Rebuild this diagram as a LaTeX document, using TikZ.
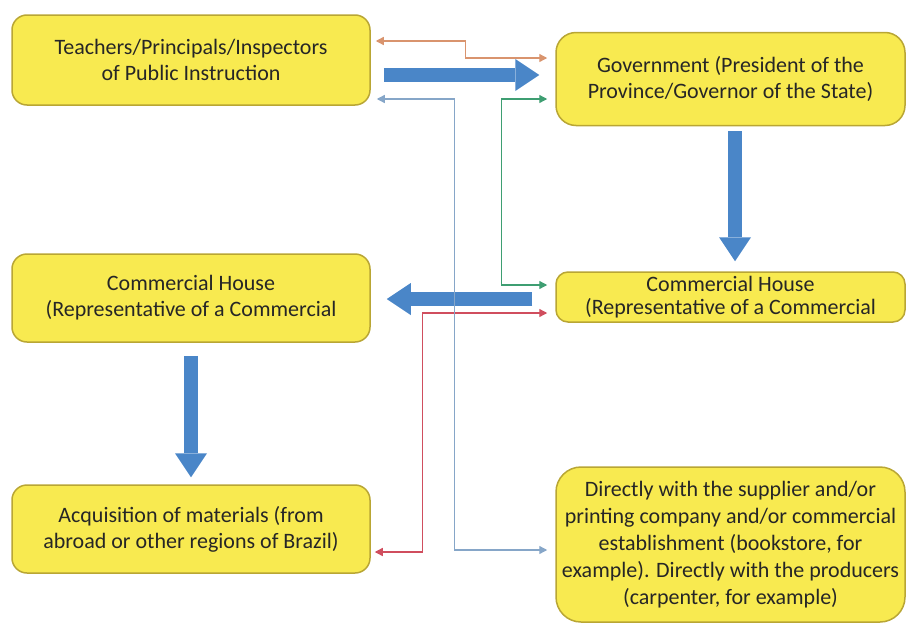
\documentclass[tikz,border=0pt]{standalone}
\usepackage{fontspec}
\setmainfont{Carlito}
\usetikzlibrary{arrows.meta}
\definecolor{boxyellow}{HTML}{F8EA50}
\definecolor{boxedge}{HTML}{B9A634}
\definecolor{arrowblue}{HTML}{4A86C8}
\definecolor{lineorange}{HTML}{D9946E}
\definecolor{lineblue}{HTML}{86A6C8}
\definecolor{linegreen}{HTML}{3E9E72}
\definecolor{linered}{HTML}{D04E5E}
\begin{document}
\begin{tikzpicture}[x=1pt,y=-1pt,
    box/.style={draw=boxedge, line width=1.5pt, fill=boxyellow, rounded corners=15pt,
      align=center, text=black!85, inner sep=0pt, font=\fontsize{22}{26}\selectfont},
    bigarrow/.style={line width=14pt, arrowblue,
      -{Triangle[length=24pt,width=32pt,line width=0pt]}},
    link/.style={line width=1.3pt,
      {Triangle[length=8pt,width=8pt]}-{Triangle[length=8pt,width=8pt]}}]
  \useasboundingbox (0,0) rectangle (908,632);
  \node[box, minimum width=358pt, minimum height=90pt] (teach) at (191,60)
    {Teachers/Principals/Inspectors\\of Public Instruction};
  \node[box, minimum width=349pt, minimum height=93pt, rounded corners=20pt] (gov) at (730.5,79)
    {Government (President of the\\Province/Governor of the State)};
  \node[box, minimum width=349pt, minimum height=50pt, rounded corners=12pt,
    font=\fontsize{22}{23}\selectfont] (commR) at (730.5,297)
    {Commercial House\\(Representative of a Commercial};
  \node[box, minimum width=358pt, minimum height=88pt] (commL) at (191,298)
    {Commercial House\\(Representative of a Commercial};
  \node[box, minimum width=358pt, minimum height=88pt] (acq) at (191,529)
    {Acquisition of materials (from\\abroad or other regions of Brazil)};
  \node[box, minimum width=349pt, minimum height=155pt, rounded corners=25pt,
    font=\fontsize{22}{27}\selectfont] (direct) at (730.5,544.5)
    {Directly with the supplier and/or\\printing company and/or commercial\\
     establishment (bookstore, for\\example). Directly with the producers\\
     (carpenter, for example)};
  \begin{scope}
    \draw[bigarrow] ([xshift=13pt,yshift=-15pt]teach.east) -- ([xshift=-16pt,yshift=4pt]gov.west);
    \draw[bigarrow] ([xshift=4.5pt,yshift=-5pt]gov.south) -- ([xshift=4.5pt,yshift=10pt]commR.north);
    \draw[bigarrow] ([xshift=-23pt,yshift=-2pt]commR.west) -- ([xshift=16pt,yshift=-1pt]commL.east);
    \draw[bigarrow] ([yshift=-13pt]commL.south) -- ([yshift=7pt]acq.north);
  \end{scope}
  \begin{scope}
    \draw[link, lineorange] ([xshift=5pt,yshift=19pt]teach.east) -- ++(90,0)
      |- ([xshift=-8pt,yshift=21pt]gov.west);
    \draw[link, linegreen] ([xshift=-8pt,yshift=-20pt]gov.west) -- ++(-46,0)
      |- ([xshift=-8pt,yshift=12pt]commR.west);
    \draw[link, linered] ([xshift=-8pt,yshift=-16pt]commR.west) -- ++(-125,0)
      |- ([xshift=4pt,yshift=-23pt]acq.east);
    \draw[link, lineblue] ([xshift=6pt,yshift=-39pt]teach.east) -- ++(78,0)
      |- ([xshift=-8pt,yshift=-5.5pt]direct.west);
  \end{scope}
\end{tikzpicture}
\end{document}
